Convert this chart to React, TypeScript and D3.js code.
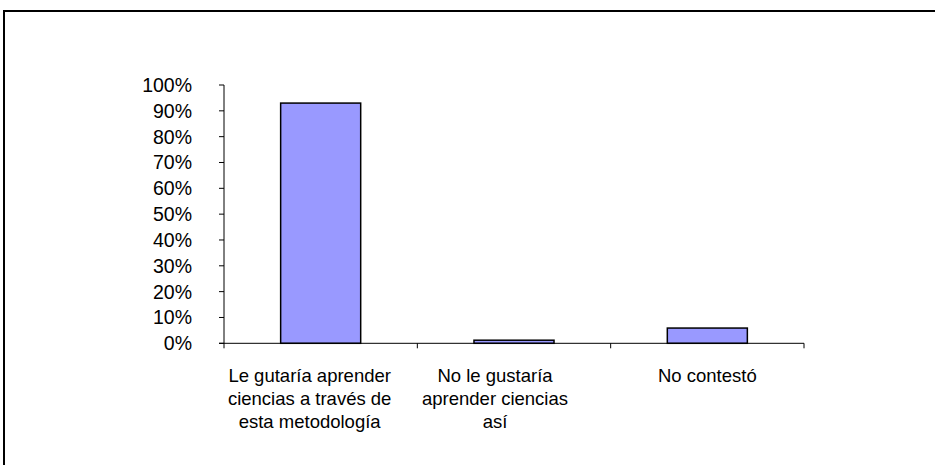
import React from "react";
import * as d3 from "d3";

const categories: string[][] = [
  ["Le gutaría aprender", "ciencias a través de", "esta metodología"],
  ["No le gustaría", "aprender ciencias", "así"],
  ["No contestó"],
];
const values: number[] = [0.93, 0.012, 0.059];
const yTicks: number[] = [0, 0.1, 0.2, 0.3, 0.4, 0.5, 0.6, 0.7, 0.8, 0.9, 1.0];

const W = 935;
const H = 465;
const plot = { left: 224, right: 804, top: 85, bottom: 343.3 };
const FONT = "'Liberation Sans', Arial, sans-serif";

export default function App() {
  const x = d3
    .scaleBand<number>()
    .domain(categories.map((_, i) => i))
    .range([plot.left, plot.right])
    .paddingInner(0.586)
    .paddingOuter(0.293);
  const y = d3.scaleLinear().domain([0, 1]).range([plot.bottom, plot.top]);
  const step = (plot.right - plot.left) / categories.length;
  const fmt = d3.format(".0%");
  const labelShift = [-11, -19, 0];

  return (
    <svg
      width={W}
      height={H}
      style={{ position: "absolute", left: 0, top: 0, background: "#fff" }}
    >
      <rect x={4} y={11} width={W + 10} height={H + 10} fill="#fff" stroke="#000" strokeWidth={2} />
      {/* bars */}
      {values.map((v, i) => (
        <rect
          key={i}
          x={x(i)}
          y={y(v)}
          width={x.bandwidth()}
          height={plot.bottom - y(v)}
          fill="#9999FF"
          stroke="#000"
          strokeWidth={1.5}
        />
      ))}
      {/* y axis */}
      <line x1={plot.left} x2={plot.left} y1={plot.top} y2={plot.bottom + 5} stroke="#000" strokeWidth={1} />
      {yTicks.map((t) => (
        <g key={t}>
          <line x1={plot.left - 5} x2={plot.left} y1={y(t)} y2={y(t)} stroke="#000" strokeWidth={1} />
          <text
            x={192}
            y={y(t)}
            textAnchor="end"
            dominantBaseline="central"
            fontFamily={FONT}
            fontSize={19.5}
            fill="#000"
          >
            {fmt(t)}
          </text>
        </g>
      ))}
      {/* x axis */}
      <line x1={plot.left - 5} x2={plot.right} y1={plot.bottom} y2={plot.bottom} stroke="#000" strokeWidth={1} />
      {categories.map((_, i) => (
        <line
          key={i}
          x1={plot.left + step * (i + 1)}
          x2={plot.left + step * (i + 1)}
          y1={plot.bottom}
          y2={plot.bottom + 5}
          stroke="#000"
          strokeWidth={1}
        />
      ))}
      {categories.map((lines, i) => (
        <text
          key={i}
          x={(x(i) as number) + x.bandwidth() / 2 + labelShift[i]}
          y={382}
          textAnchor="middle"
          fontFamily={FONT}
          fontSize={18.5}
          fill="#000"
        >
          {lines.map((ln, j) => (
            <tspan key={j} x={(x(i) as number) + x.bandwidth() / 2 + labelShift[i]} dy={j === 0 ? 0 : 23}>
              {ln}
            </tspan>
          ))}
        </text>
      ))}
    </svg>
  );
}
